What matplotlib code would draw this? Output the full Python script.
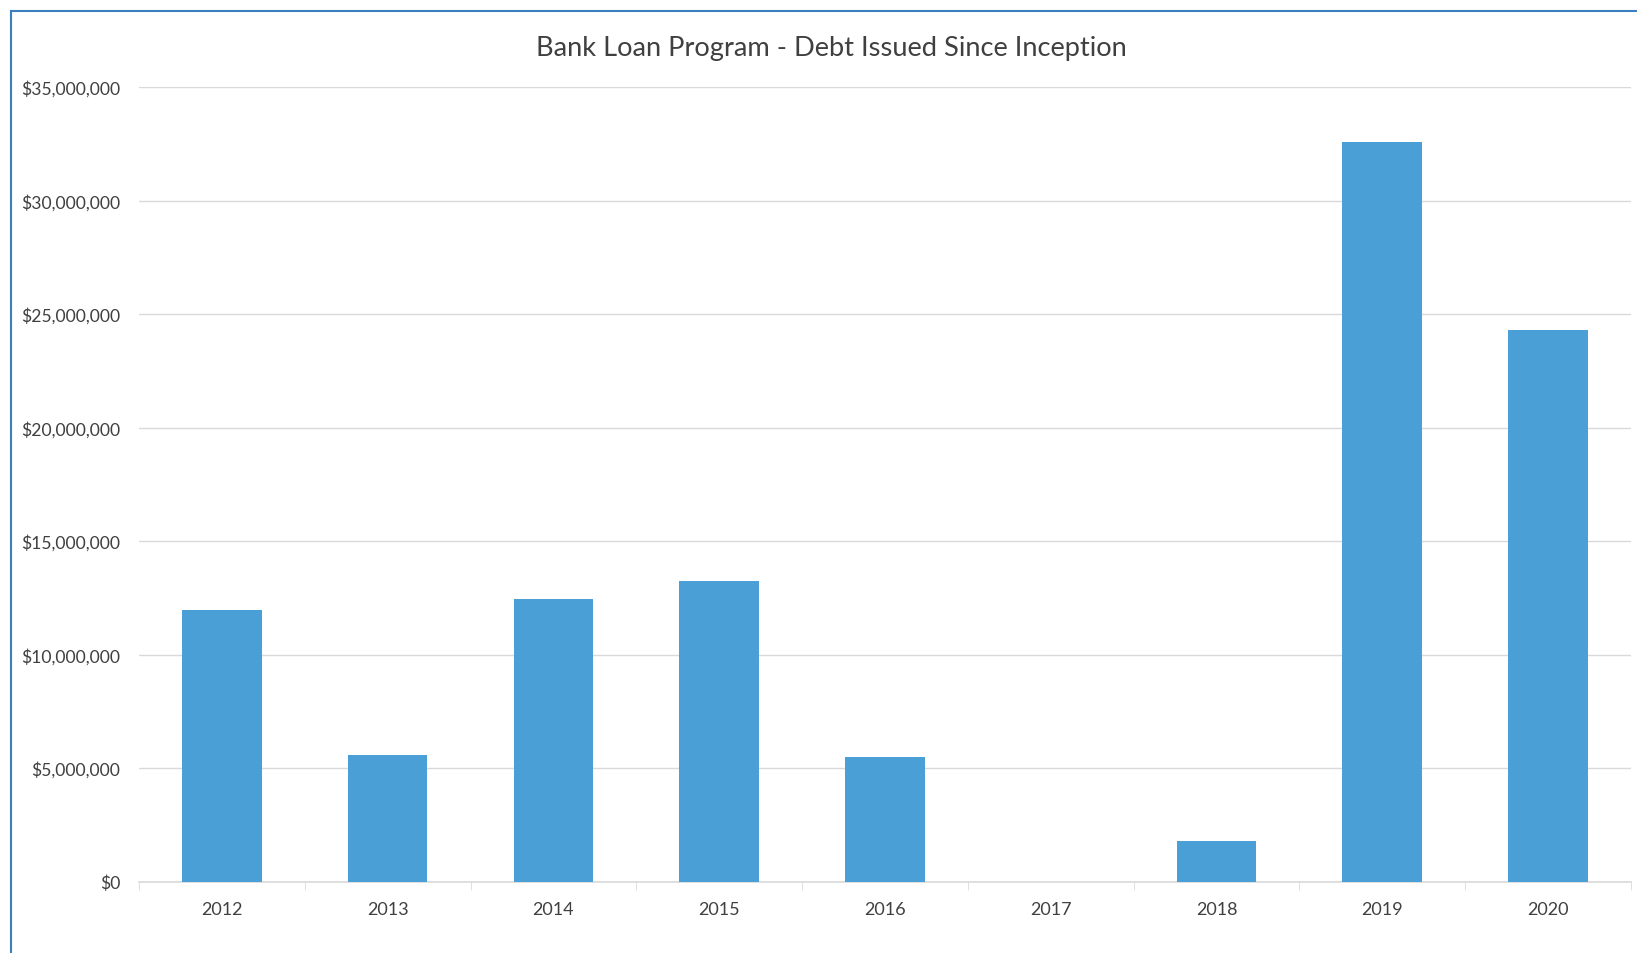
import matplotlib.pyplot as plt
from matplotlib.lines import Line2D
from matplotlib.ticker import FuncFormatter, MultipleLocator
import numpy as np

years = ["2012", "2013", "2014", "2015", "2016", "2017", "2018", "2019", "2020"]
debt_issued = [11_950_000, 5_600_000, 12_450_000, 13_230_000, 5_500_000, 0,
               1_780_000, 32_600_000, 24_300_000]

title = "Bank Loan Program - Debt Issued Since Inception"
text_color = "#404040"
bar_color = "#4aa0d6"
grid_color = "#d9d9d9"

plt.rcParams["font.family"] = ["Lato", "DejaVu Sans"]

fig = plt.figure(figsize=(16.37, 9.535), dpi=100)
ax = fig.add_axes([0.0849, 0.0748, 0.9114, 0.833])

x = np.arange(len(years))
ax.bar(x, debt_issued, width=0.48, color=bar_color, zorder=3)

ax.set_xlim(-0.5, len(years) - 0.5)
ax.set_ylim(0, 35_000_000)
ax.yaxis.set_major_locator(MultipleLocator(5_000_000))
ax.yaxis.set_major_formatter(FuncFormatter(lambda v, _: f"${v:,.0f}"))
ax.grid(axis="y", color=grid_color, linewidth=1.0, zorder=0)

ax.set_xticks(x)
ax.set_xticklabels(years)
ax.set_xticks(np.arange(len(years) + 1) - 0.5, minor=True)
ax.tick_params(axis="x", which="major", length=0, pad=14, labelsize=13, labelcolor=text_color)
ax.tick_params(axis="x", which="minor", length=6, color=grid_color, direction="out")
ax.tick_params(axis="y", length=0, pad=13.5, labelsize=12.6, labelcolor=text_color)

for side in ["top", "right", "left"]:
    ax.spines[side].set_visible(False)
ax.spines["bottom"].set_color(grid_color)
ax.spines["bottom"].set_linewidth(1.2)

fig.text(0.5076, 0.949, title, ha="center", va="center", fontsize=19.6, color=text_color)

# chart-area border (visible left and top edges)
border = "#3a7fc0"
fig.add_artist(Line2D([0.0067, 0.0067], [0.0, 0.988], color=border, linewidth=1.5))
fig.add_artist(Line2D([0.0067, 1.0], [0.988, 0.988], color=border, linewidth=1.5))

fig.savefig("out.png", dpi=100, facecolor="white")
